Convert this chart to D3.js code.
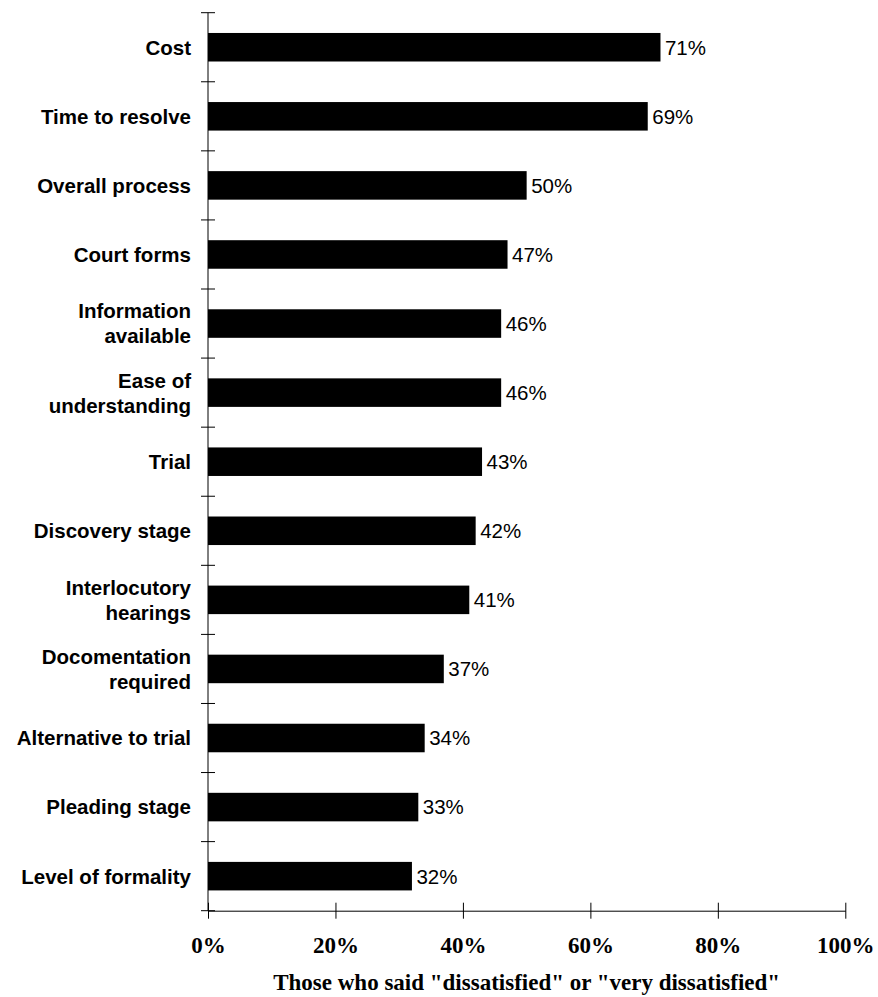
<!DOCTYPE html>
<html>
<head>
<meta charset="utf-8">
<script src="https://cdn.jsdelivr.net/npm/d3@7"></script>
<style>
  html, body { margin: 0; padding: 0; background: #fff; }
  svg { display: block; }
</style>
</head>
<body>
<svg id="chart" width="878" height="997"></svg>
<script>
const categories = [
  ["Cost"],
  ["Time to resolve"],
  ["Overall process"],
  ["Court forms"],
  ["Information", "available"],
  ["Ease of", "understanding"],
  ["Trial"],
  ["Discovery stage"],
  ["Interlocutory", "hearings"],
  ["Docomentation", "required"],
  ["Alternative to trial"],
  ["Pleading stage"],
  ["Level of formality"]
];
const values = [71, 69, 50, 47, 46, 46, 43, 42, 41, 37, 34, 33, 32];
const xTicks = [0, 20, 40, 60, 80, 100];
const xTitle = 'Those who said "dissatisfied" or "very dissatisfied"';

(function () {
const svg = d3.select("#chart");
const pL = 208, pR = 845.3, pT = 12.7, pB = 910.7;
const keys = categories.map(c => c.join(" "));
const data = keys.map((k, i) => ({ key: k, lines: categories[i], value: values[i] }));

const p = 0.587;
const x = d3.scaleLinear().domain([0, 100]).range([pL, pR]);
const y = d3.scaleBand().domain(keys).range([pT, pB]).paddingInner(p).paddingOuter(p / 2);

// bars
svg.append("g").selectAll("rect").data(data).join("rect")
  .attr("x", x(0))
  .attr("y", d => y(d.key))
  .attr("width", d => x(d.value) - x(0))
  .attr("height", y.bandwidth())
  .attr("fill", "#000");

// value labels
svg.append("g").selectAll("text").data(data).join("text")
  .attr("x", d => x(d.value) + 4.5)
  .attr("y", d => y(d.key) + y.bandwidth() / 2)
  .attr("dy", "0.36em")
  .attr("font-family", "Liberation Sans, Arial, sans-serif")
  .attr("font-size", "20.5px")
  .attr("fill", "#000")
  .text(d => d.value + "%");

// y axis line and ticks at band boundaries
const gy = svg.append("g");
gy.append("line").attr("x1", pL).attr("x2", pL).attr("y1", pT).attr("y2", pB)
  .attr("stroke", "#000").attr("stroke-width", 1);
const bounds = keys.map(k => y(k) - y.step() * p / 2).concat([pB]);
gy.selectAll("line.tick").data(bounds).join("line").attr("class", "tick")
  .attr("x1", pL - 7).attr("x2", pL + 7)
  .attr("y1", d => d).attr("y2", d => d)
  .attr("stroke", "#000").attr("stroke-width", 1);

// category labels
const lineH = 25;
const lab = svg.append("g").selectAll("text").data(data).join("text")
  .attr("x", pL - 17)
  .attr("text-anchor", "end")
  .attr("font-family", "Liberation Sans, Arial, sans-serif")
  .attr("font-weight", "bold")
  .attr("font-size", "20.5px")
  .attr("fill", "#000");
lab.each(function(d) {
  const cy = y(d.key) + y.bandwidth() / 2;
  const n = d.lines.length;
  d3.select(this).selectAll("tspan").data(d.lines).join("tspan")
    .attr("x", pL - 17)
    .attr("y", (t, i) => cy + (i - (n - 1) / 2) * lineH)
    .attr("dy", "0.36em")
    .text(t => t);
});

// x axis
const gx = svg.append("g").attr("transform", `translate(0,${pB})`)
  .call(d3.axisBottom(x).tickValues(xTicks).tickSize(8).tickSizeOuter(0).tickFormat(d => d + "%"));
gx.select(".domain").attr("stroke", "#000");
gx.selectAll(".tick line").attr("y1", -8).attr("y2", 8).attr("stroke", "#000");
gx.selectAll(".tick text")
  .attr("y", 42.5).attr("dy", 0)
  .attr("font-family", "Liberation Serif, 'Times New Roman', serif")
  .attr("font-weight", "bold")
  .attr("font-size", "23px")
  .attr("fill", "#000");

// x title
svg.append("text")
  .attr("x", (pL + pR) / 2)
  .attr("y", 990)
  .attr("text-anchor", "middle")
  .attr("font-family", "Liberation Serif, 'Times New Roman', serif")
  .attr("font-weight", "bold")
  .attr("font-size", "23px")
  .attr("fill", "#000")
  .text(xTitle);
})();
</script>
</body>
</html>
